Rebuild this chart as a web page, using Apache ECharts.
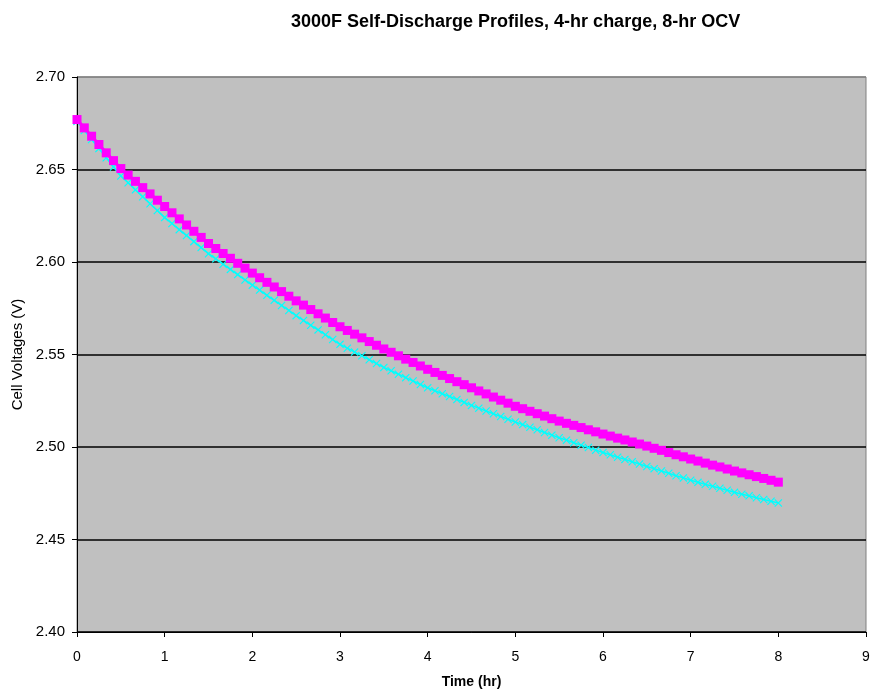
<!DOCTYPE html>
<html>
<head>
<meta charset="utf-8">
<script src="https://cdn.jsdelivr.net/npm/echarts@6/dist/echarts.min.js"></script>
<style>
html,body{margin:0;padding:0;background:#fff;overflow:hidden;}
#chart{width:871px;height:690px;}
</style>
</head>
<body>
<div id="chart"></div>
<script>
// Sample times in minutes (every 5 min from 0 to 480)
const minutes = [0,5,10,15,20,25,30,35,40,45,50,55,60,65,70,75,80,85,90,95,100,105,110,115,120,125,130,135,140,145,150,155,160,165,170,175,180,185,190,195,200,205,210,215,220,225,230,235,240,245,250,255,260,265,270,275,280,285,290,295,300,305,310,315,320,325,330,335,340,345,350,355,360,365,370,375,380,385,390,395,400,405,410,415,420,425,430,435,440,445,450,455,460,465,470,475,480];

// Magenta series (square markers), cell voltage V
const cellA = [2.677,2.6725,2.668,2.6635,2.659,2.6548,2.6505,2.647,2.6436,2.6402,2.6368,2.6334,2.630,2.6266,2.6233,2.620,2.6166,2.6133,2.610,2.6073,2.6046,2.602,2.5993,2.5967,2.594,2.5915,2.589,2.5865,2.584,2.5815,2.579,2.5767,2.5743,2.572,2.5697,2.5673,2.565,2.563,2.561,2.559,2.557,2.555,2.553,2.5512,2.5493,2.5475,2.5457,2.5438,2.542,2.5403,2.5387,2.537,2.5353,2.5337,2.532,2.5303,2.5287,2.527,2.5253,2.5237,2.522,2.5207,2.5193,2.518,2.5167,2.5153,2.514,2.5128,2.5117,2.5105,2.5093,2.5082,2.507,2.5059,2.5048,2.5038,2.5027,2.5016,2.5005,2.4993,2.4982,2.497,2.4958,2.4947,2.4935,2.4924,2.4913,2.4902,2.4892,2.4881,2.487,2.486,2.485,2.484,2.483,2.482,2.481];

// Cyan series (cross markers), cell voltage V
const cellB = [2.676,2.6711,2.6662,2.6613,2.6563,2.6514,2.6465,2.6428,2.639,2.6353,2.6315,2.6278,2.624,2.6208,2.6175,2.6143,2.611,2.6078,2.6045,2.6017,2.5988,2.596,2.5932,2.5903,2.5875,2.5848,2.582,2.5793,2.5765,2.5738,2.571,2.5684,2.5658,2.5633,2.5607,2.5581,2.5555,2.5534,2.5513,2.5493,2.5472,2.5451,2.543,2.5412,2.5393,2.5375,2.5357,2.5338,2.532,2.5304,2.5288,2.5273,2.5257,2.5241,2.5225,2.521,2.5195,2.518,2.5165,2.515,2.5135,2.5121,2.5107,2.5093,2.5078,2.5064,2.505,2.5037,2.5023,2.501,2.4997,2.4983,2.497,2.4958,2.4945,2.4933,2.492,2.4908,2.4895,2.4883,2.487,2.4858,2.4845,2.4833,2.482,2.4809,2.4798,2.4788,2.4777,2.4766,2.4755,2.4745,2.4736,2.4726,2.4716,2.4707,2.4697];

const titleText = '3000F Self-Discharge Profiles, 4-hr charge, 8-hr OCV';
const xName = 'Time (hr)';
const yName = 'Cell Voltages (V)';

const toPairs = vals => vals.map((v, i) => [minutes[i] / 60, v]);

const chart = echarts.init(document.getElementById('chart'), null, {renderer: 'canvas'});
const font = 'Liberation Sans, Arial, sans-serif';
chart.setOption({
  animation: false,
  backgroundColor: '#ffffff',
  title: {
    text: titleText,
    left: 286,
    top: 8,
    textStyle: {fontFamily: font, fontSize: 18, fontWeight: 'bold', color: '#000'}
  },
  grid: {
    left: 77, right: 5, top: 77, bottom: 58,
    containLabel: false,
    outerBoundsMode: 'none',
    show: true, backgroundColor: '#C0C0C0', borderColor: '#808080', borderWidth: 1
  },
  xAxis: {
    type: 'value', min: 0, max: 9, interval: 1,
    name: xName, nameLocation: 'middle', nameGap: 43,
    nameTextStyle: {fontFamily: font, fontSize: 14, fontWeight: 'bold', color: '#000'},
    axisLine: {show: true, onZero: false, lineStyle: {color: '#000', width: 1}},
    axisTick: {show: true, length: 5, lineStyle: {color: '#000'}},
    axisLabel: {fontFamily: font, fontSize: 14, color: '#000', margin: 18},
    splitLine: {show: false}
  },
  yAxis: {
    type: 'value', min: 2.4, max: 2.7, interval: 0.05,
    name: yName, nameLocation: 'middle', nameGap: 50,
    nameTextStyle: {fontFamily: font, fontSize: 15, color: '#000'},
    axisLine: {show: true, lineStyle: {color: '#000', width: 1}},
    axisTick: {show: true, length: 5, lineStyle: {color: '#000'}},
    axisLabel: {fontFamily: font, fontSize: 15, color: '#000', margin: 12,
      formatter: v => v.toFixed(2)},
    splitLine: {show: true, lineStyle: {color: ['#000','#000','#000','#000','#000','#000','#808080'], width: 1.5}}
  },
  series: [
    {
      name: 'B', type: 'line', data: toPairs(cellB),
      symbol: 'path://M0,1L1,0L5,4L9,0L10,1L6,5L10,9L9,10L5,6L1,10L0,9L4,5Z',
      symbolSize: 8, showSymbol: true,
      itemStyle: {color: '#00FFFF'},
      lineStyle: {color: '#00FFFF', width: 1.5},
      z: 2
    },
    {
      name: 'A', type: 'line', data: toPairs(cellA),
      symbol: 'rect', symbolSize: 9, showSymbol: true,
      itemStyle: {color: '#FF00FF'},
      lineStyle: {color: '#FF00FF', width: 3},
      z: 3
    }
  ]
});
</script>
</body>
</html>
